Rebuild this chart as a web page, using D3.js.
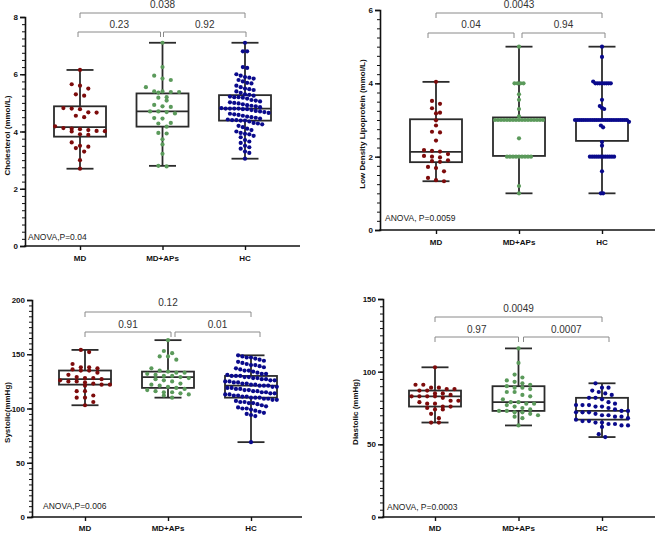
<!DOCTYPE html>
<html lang="en">
<head>
<meta charset="UTF-8">
<title>Lipids and blood pressure by group</title>
<style>
  body { margin: 0; background: #fff; }
  svg { display: block; font-family: "Liberation Sans", Arial, sans-serif; }
  .tick text { font-weight: bold; font-size: 8px; fill: #111; }
  .ytitle, .xlab { font-weight: bold; font-size: 8px; fill: #111; }
  .plab { font-size: 10px; fill: #333; }
  .anova { font-size: 8.5px; fill: #222; }
</style>
</head>
<body>
<svg id="chart" width="658" height="533"></svg>
<script src="https://d3js.org/d3.v7.min.js"></script>
<script>
// groups and colours
const groups = ["MD", "MD+APs", "HC"];
const groupColors = ["#7d0b0b", "#5b9a5b", "#0a0a8c"];

// Cholesterol (mmol/L)
const cholMD = [6.15, 5.65, 5.6, 5.5, 5.3, 5.25, 4.82, 4.8, 4.78, 4.67, 4.66, 4.55, 4.5, 4.18, 4.12, 4.1, 4.08,
  4.05, 4.02, 4.01, 4.0, 3.9, 3.88, 3.62, 3.5, 3.47, 3.42, 3.3, 3.0, 2.7];
const cholAP = [7.1, 6.25, 5.95, 5.85, 5.8, 5.55, 5.4, 5.4, 5.38, 5.38, 5.36, 5.2, 5.18, 5.08, 4.93, 4.88, 4.86,
  4.7, 4.7, 4.68, 4.63, 4.47, 4.45, 4.3, 4.28, 4.17, 3.95, 3.93, 3.73, 3.55, 3.22, 2.8, 2.78];
const cholHC = [7.1, 6.8, 6.8, 6.25, 6.22, 6.0, 5.95, 5.9, 5.88, 5.85, 5.8, 5.75, 5.7, 5.68, 5.6, 5.55, 5.5, 5.48,
  5.45, 5.4, 5.35, 5.3, 5.28, 5.25, 5.22, 5.2, 5.2, 5.18, 5.15, 5.1, 5.08, 5.05, 5.02, 5.0, 4.98, 4.95, 4.92, 4.9,
  4.88, 4.85, 4.82, 4.8, 4.8, 4.8, 4.8, 4.78, 4.78, 4.75, 4.72, 4.7, 4.68, 4.65, 4.62, 4.6, 4.58, 4.55, 4.52, 4.5,
  4.48, 4.45, 4.42, 4.4, 4.4, 4.38, 4.38, 4.35, 4.3, 4.28, 4.25, 4.2, 4.15, 4.1, 4.05, 4.0, 3.95, 3.92, 3.9, 3.85,
  3.8, 3.7, 3.65, 3.6, 3.5, 3.45, 3.4, 3.3, 3.25, 3.05];
// [min, q1, median, q3, max]
const cholBox = [[2.7, 3.82, 4.15, 4.88, 6.15], [2.8, 4.17, 4.7, 5.33, 7.1], [3.05, 4.38, 4.8, 5.27, 7.1]];

// Low Density Lipoprotein (mmol/L)
const ldlMD = [4.04, 3.52, 3.44, 3.32, 3.2, 3.18, 2.99, 2.85, 2.68, 2.66, 2.44, 2.18, 2.16, 2.14, 2.07, 2.02, 2.0,
  1.98, 1.9, 1.88, 1.86, 1.72, 1.69, 1.6, 1.42, 1.36, 1.33];
const ldlAP = [5.0, 4.0, 4.0, 4.0, 4.0, 3.7, 3.55, 3.3, 3.1, 3.0, 3.0, 3.0, 3.0, 3.0, 3.0, 3.0, 3.0, 3.0, 3.0, 3.0,
  3.0, 3.0, 3.0, 3.0, 3.0, 3.0, 2.5, 2.0, 2.0, 2.0, 2.0, 2.0, 2.0, 2.0, 2.0, 2.0, 1.2, 1.0];
const ldlHC = [5.0, 4.72, 4.05, 4.0, 4.0, 4.0, 4.0, 4.0, 4.0, 4.0, 4.0, 3.55, 3.38, 3.33, 3.3, 3.0, 3.0, 3.0, 3.0,
  3.0, 3.0, 3.0, 3.0, 3.0, 3.0, 3.0, 3.0, 3.0, 3.0, 3.0, 3.0, 3.0, 3.0, 3.0, 3.0, 3.0, 3.0, 3.0, 3.0, 3.0, 2.95,
  2.85, 2.8, 2.4, 2.3, 2.0, 2.0, 2.0, 2.0, 2.0, 2.0, 2.0, 2.0, 2.0, 2.0, 2.0, 2.0, 1.6, 1.0, 1.0];
const ldlBox = [[1.33, 1.85, 2.13, 3.02, 4.04], [1.0, 2.02, 3.0, 3.07, 5.0], [1.0, 2.43, 3.0, 3.0, 5.0]];

// Systolic (mmHg)
const sysMD = [154, 152, 141, 138, 138, 137, 136, 135, 135, 133, 131, 129, 128, 128, 127, 126, 125, 125, 124, 123,
  122, 122, 121, 116, 116, 112, 110, 110, 106, 103];
const sysAP = [163, 153, 151, 148, 148, 145, 137, 135, 134, 133, 133, 132, 131, 130, 130, 129, 128, 127, 126, 125,
  123, 122, 121, 120, 119, 118, 117, 116, 115, 115, 114, 113, 112, 110];
const sysHC = [149, 148, 147, 147, 146, 145, 144, 143, 142, 141, 140, 140, 139, 138, 137, 136, 135, 135, 134, 133,
  132, 132, 131, 130, 130, 130, 129, 129, 128, 128, 127, 127, 126, 126, 125, 125, 124, 124, 123, 123, 122, 122,
  121, 121, 121, 120, 120, 119, 119, 118, 118, 117, 117, 116, 116, 115, 115, 114, 114, 113, 113, 112, 112, 111,
  111, 110, 110, 110, 109, 109, 108, 108, 107, 106, 106, 105, 105, 104, 103, 102, 101, 100, 100, 99, 98, 97, 96,
  95, 94, 93, 69];
const sysBox = [[103, 122, 127, 135, 154], [110, 119, 129, 134, 163], [69, 110, 121, 130, 149]];

// Diastolic (mmHg)
const diaMD = [103, 91, 91, 89, 89, 88, 88, 87, 87, 85, 85, 84, 83, 83, 83, 83, 82, 80, 80, 79, 78, 78, 76, 76,
  75, 74, 74, 71, 68, 65, 65];
const diaAP = [116, 106, 98, 96, 94, 93, 92, 91, 90, 89, 89, 88, 86, 86, 84, 83, 81, 79, 79, 78, 78, 77, 76, 75,
  74, 73, 73, 72, 72, 71, 70, 69, 68, 63];
const diaHC = [92, 89, 89, 87, 86, 85, 84, 82, 82, 81, 79, 78, 77, 77, 77, 76, 76, 75, 74, 73, 73, 72, 72, 72, 71,
  70, 70, 69, 69, 68, 67, 66, 66, 65, 65, 64, 64, 63, 63, 62, 57, 55];
const diaBox = [[65, 76, 83, 87, 103], [63, 73, 79, 90, 116], [55, 67, 73, 82, 92]];

const yTitles = ["Cholesterol (mmol/L)", "Low Density Lipoprotein (mmol/L)", "Systolic(mmHg)", "Diastolic (mmHg)"];
const anovaLabels = ["ANOVA,P=0.04", "ANOVA, P=0.0059", "ANOVA,P=0.006", "ANOVA, P=0.0003"];
// p-values: [MD vs HC, MD vs MD+APs, MD+APs vs HC]
const pLabels = [["0.038", "0.23", "0.92"], ["0.0043", "0.04", "0.94"], ["0.12", "0.91", "0.01"], ["0.0049", "0.97", "0.0007"]];

const panels = [
  { data: [cholMD, cholAP, cholHC], box: cholBox, max: 8, major: 2, minor: 0.25,
    ax: 25, xEnd: 300, yTop: 17, yBot: 246, cx: [80, 245], labY: 261, titleX: 10, anovaX: 28, anovaY: 240,
    spacing: [8.3, 8.3, 4.3], bin: [5, 5, 5],
    br: { top: 13, low: 32, topT: 8, lowT: 27.5, l1: [-2, -2], l2: [1, 1] } },
  { data: [ldlMD, ldlAP, ldlHC], box: ldlBox, max: 6, major: 2, minor: 0.25,
    ax: 380, xEnd: 655, yTop: 10, yBot: 230, cx: [436, 602], labY: 245, titleX: 365, anovaX: 385, anovaY: 221,
    spacing: [8, 3, 2.2], bin: [4.5, 3, 3],
    br: { top: 13, low: 33, topT: 8, lowT: 27.5, l1: [-8, -5], l2: [3, 3] } },
  { data: [sysMD, sysAP, sysHC], box: sysBox, max: 200, major: 50, minor: 5,
    ax: 32, xEnd: 302, yTop: 300, yBot: 517, cx: [85, 251], labY: 531, titleX: 10, anovaX: 43, anovaY: 509,
    spacing: [8.3, 8.3, 4.3], bin: [5, 5, 6],
    br: { top: 312, low: 332, topT: 306, lowT: 327.5, l1: [0, 3], l2: [7, 9] } },
  { data: [diaMD, diaAP, diaHC], box: diaBox, max: 150, major: 50, minor: 5,
    ax: 383, xEnd: 655, yTop: 299, yBot: 517, cx: [435, 602], labY: 531, titleX: 358, anovaX: 387, anovaY: 510,
    spacing: [7.8, 7.8, 6.5], bin: [5, 5, 6],
    br: { top: 317, low: 337, topT: 311.5, lowT: 332.5, l1: [0, 0], l2: [5, 7] } }
];

const svg = d3.select("#chart");
const boxW = 52, capW = 27, r = 2.1, maxRow = 54;

// Prism-like scatter: values close in y share a row and spread sideways
function swarm(values, y, spacing, bin) {
  const pts = values.map(v => ({ v, py: y(v) })).sort((a, b) => a.py - b.py);
  const rows = [];
  pts.forEach(p => {
    const last = rows[rows.length - 1];
    if (last && p.py - last[0].py < bin) last.push(p); else rows.push([p]);
  });
  rows.forEach(row => {
    const n = row.length;
    const s = n > 1 ? Math.min(spacing, maxRow / (n - 1)) : 0;
    row.forEach((p, i) => { p.dx = (i - (n - 1) / 2) * s; });
  });
  return pts;
}

panels.forEach((P, pi) => {
  const g = svg.append("g");
  const y = d3.scaleLinear().domain([0, P.max]).range([P.yBot, P.yTop]);
  const x = d3.scalePoint().domain(groups).range(P.cx);

  // y axis: minor then major ticks
  const minorVals = d3.range(0, P.max + P.minor / 2, P.minor);
  g.append("g").attr("transform", `translate(${P.ax},0)`)
    .call(d3.axisLeft(y).tickValues(minorVals).tickSize(3).tickFormat(""))
    .call(a => a.select(".domain").remove())
    .call(a => a.selectAll("line").attr("stroke", "#111").attr("stroke-width", 1));
  g.append("g").attr("transform", `translate(${P.ax},0)`)
    .call(d3.axisLeft(y).tickValues(d3.range(0, P.max + 1e-9, P.major))
      .tickSize(5).tickPadding(2).tickFormat(d3.format("d")))
    .call(a => a.select(".domain").attr("stroke", "#111").attr("stroke-width", 1.6))
    .call(a => a.selectAll("line").attr("stroke", "#111").attr("stroke-width", 1.4));

  // x axis
  g.append("line").attr("x1", P.ax - 0.8).attr("x2", P.xEnd).attr("y1", P.yBot).attr("y2", P.yBot)
    .attr("stroke", "#111").attr("stroke-width", 1.6);
  g.append("g").attr("transform", `translate(0,${P.yBot})`)
    .call(d3.axisBottom(x).tickSize(4).tickFormat(""))
    .call(a => a.select(".domain").remove())
    .call(a => a.selectAll("line").attr("stroke", "#111").attr("stroke-width", 1.4));
  g.selectAll(".xlab").data(groups).join("text").attr("class", "xlab")
    .attr("x", d => x(d)).attr("y", P.labY).attr("text-anchor", "middle").text(d => d);

  // y title
  g.append("text").attr("class", "ytitle")
    .attr("transform", `translate(${P.titleX},${(P.yTop + P.yBot) / 2 + 4}) rotate(-90)`)
    .attr("text-anchor", "middle").text(yTitles[pi]);

  // box plots
  groups.forEach((grp, gi) => {
    const [mn, q1, md, q3, mx] = P.box[gi];
    const cx = x(grp);
    const bg = g.append("g").attr("stroke", "#2b2b2b").attr("stroke-width", 1.8).attr("fill", "none");
    bg.append("line").attr("x1", cx).attr("x2", cx).attr("y1", y(mx)).attr("y2", y(q3));
    bg.append("line").attr("x1", cx).attr("x2", cx).attr("y1", y(q1)).attr("y2", y(mn));
    bg.append("line").attr("x1", cx - capW / 2).attr("x2", cx + capW / 2).attr("y1", y(mx)).attr("y2", y(mx));
    bg.append("line").attr("x1", cx - capW / 2).attr("x2", cx + capW / 2).attr("y1", y(mn)).attr("y2", y(mn));
    bg.append("rect").attr("x", cx - boxW / 2).attr("width", boxW)
      .attr("y", y(q3)).attr("height", y(q1) - y(q3)).attr("fill", "#fff");
    bg.append("line").attr("x1", cx - boxW / 2).attr("x2", cx + boxW / 2).attr("y1", y(md)).attr("y2", y(md));

    const pts = swarm(P.data[gi], y, P.spacing[gi], P.bin[gi]);
    g.append("g").selectAll("circle").data(pts).join("circle")
      .attr("cx", d => cx + d.dx).attr("cy", d => d.py).attr("r", r)
      .attr("fill", groupColors[gi]);
  });

  // significance brackets
  const B = P.br;
  const brackets = [
    { a: 0, b: 2, yl: B.top, yt: B.topT, da: 0, db: 0, label: pLabels[pi][0] },
    { a: 0, b: 1, yl: B.low, yt: B.lowT, da: B.l1[0], db: B.l1[1], label: pLabels[pi][1] },
    { a: 1, b: 2, yl: B.low, yt: B.lowT, da: B.l2[0], db: B.l2[1], label: pLabels[pi][2] }
  ];
  brackets.forEach(b => {
    const x1 = x(groups[b.a]) + b.da, x2 = x(groups[b.b]) + b.db;
    g.append("path")
      .attr("d", `M${x1},${b.yl + 5}V${b.yl}H${x2}V${b.yl + 5}`)
      .attr("fill", "none").attr("stroke", "#8a8a8a").attr("stroke-width", 1);
    g.append("text").attr("class", "plab").attr("x", (x1 + x2) / 2).attr("y", b.yt)
      .attr("text-anchor", "middle").text(b.label);
  });

  g.append("text").attr("class", "anova").attr("x", P.anovaX).attr("y", P.anovaY).text(anovaLabels[pi]);
});
</script>
</body>
</html>
